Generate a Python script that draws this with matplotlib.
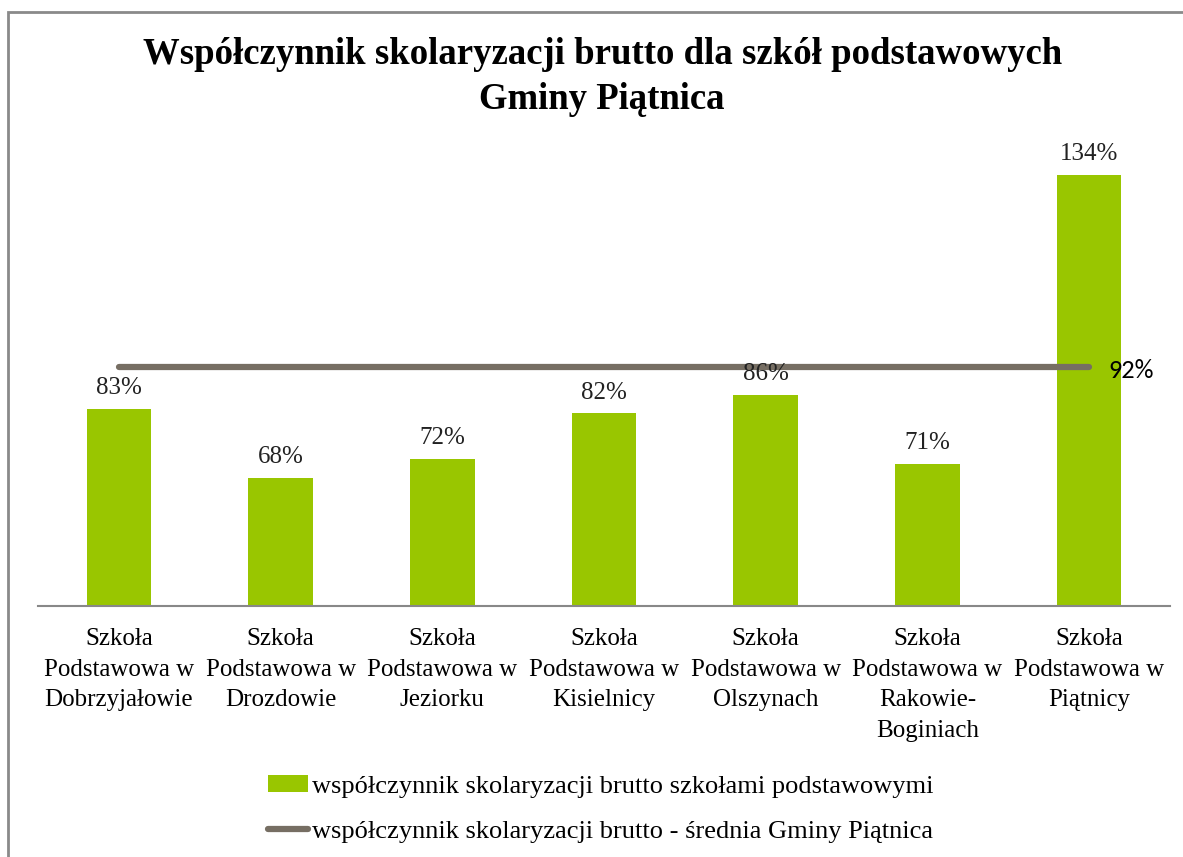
import matplotlib.pyplot as plt
from matplotlib.patches import Rectangle, Patch
from matplotlib.lines import Line2D

# Dane
categories = ['Szkoła\nPodstawowa w\nDobrzyjałowie', 'Szkoła\nPodstawowa w\nDrozdowie',
              'Szkoła\nPodstawowa w\nJeziorku', 'Szkoła\nPodstawowa w\nKisielnicy',
              'Szkoła\nPodstawowa w\nOlszynach', 'Szkoła\nPodstawowa w\nRakowie-\nBoginiach',
              'Szkoła\nPodstawowa w\nPiątnicy']
values = [83, 68, 72, 82, 86, 71, 134]
average = [92, 92, 92, 92, 92, 92, 92]

bar_name = 'współczynnik skolaryzacji brutto szkołami podstawowymi'
line_name = 'współczynnik skolaryzacji brutto - średnia Gminy Piątnica'
title = 'Współczynnik skolaryzacji brutto dla szkół podstawowych\nGminy Piątnica'

green = '#99C600'
grey = '#766E63'
serif = ['Liberation Serif', 'DejaVu Serif']

fig = plt.figure(figsize=(11.83, 8.57), dpi=100)
fig.patches.append(Rectangle((8 / 1183, -0.1), 1.2, 1 - 12 / 857 + 0.1, transform=fig.transFigure,
                             fill=False, edgecolor='#8A8A8A', linewidth=2))

ax = fig.add_axes([38 / 1183, 1 - 606 / 857, 1132 / 1183, (606 - 147.2) / 857])
x = range(len(categories))
ax.bar(x, values, width=0.4, color=green, zorder=2)
ax.plot(x, average, color=grey, linewidth=4.5, solid_capstyle='round', zorder=3)

for i, v in enumerate(values):
    ax.annotate(f'{v}%', (i, v), xytext=(0, 7), textcoords='offset points', ha='center',
                va='bottom', fontsize=18, family=serif, color='#222222')
ax.annotate(f'{average[-1]}%', (len(categories) - 1, average[-1]), xytext=(14, -2),
            textcoords='offset points', ha='left', va='center', fontsize=19,
            family=['Carlito', 'Liberation Sans', 'DejaVu Sans'], color='black')

ax.set_ylim(40, 140)
ax.set_xlim(-0.5, len(categories) - 0.5)
ax.set_yticks([])
ax.set_xticks(list(x))
ax.set_xticklabels(categories, fontsize=18, family=serif, linespacing=1.5)
ax.tick_params(axis='x', length=0, pad=16)
for s in ['top', 'right', 'left']:
    ax.spines[s].set_visible(False)
ax.spines['bottom'].set_color('#888888')
ax.spines['bottom'].set_linewidth(1.5)

fig.text(0.509, 1 - 77 / 857, title, ha='center', va='center', fontsize=26.5, fontweight='bold',
         family=serif, linespacing=1.36)

handles = [Patch(facecolor=green, edgecolor='none'),
           Line2D([0], [0], color=grey, linewidth=4.5, solid_capstyle='round')]
fig.legend(handles, [bar_name, line_name], loc='center', bbox_to_anchor=(0.508, 1 - 809 / 857),
           frameon=False, prop={'family': serif, 'size': 19}, handlelength=1.5,
           handleheight=0.6, handletextpad=0.15, labelspacing=0.85)

fig.savefig('out.png', dpi=100)
